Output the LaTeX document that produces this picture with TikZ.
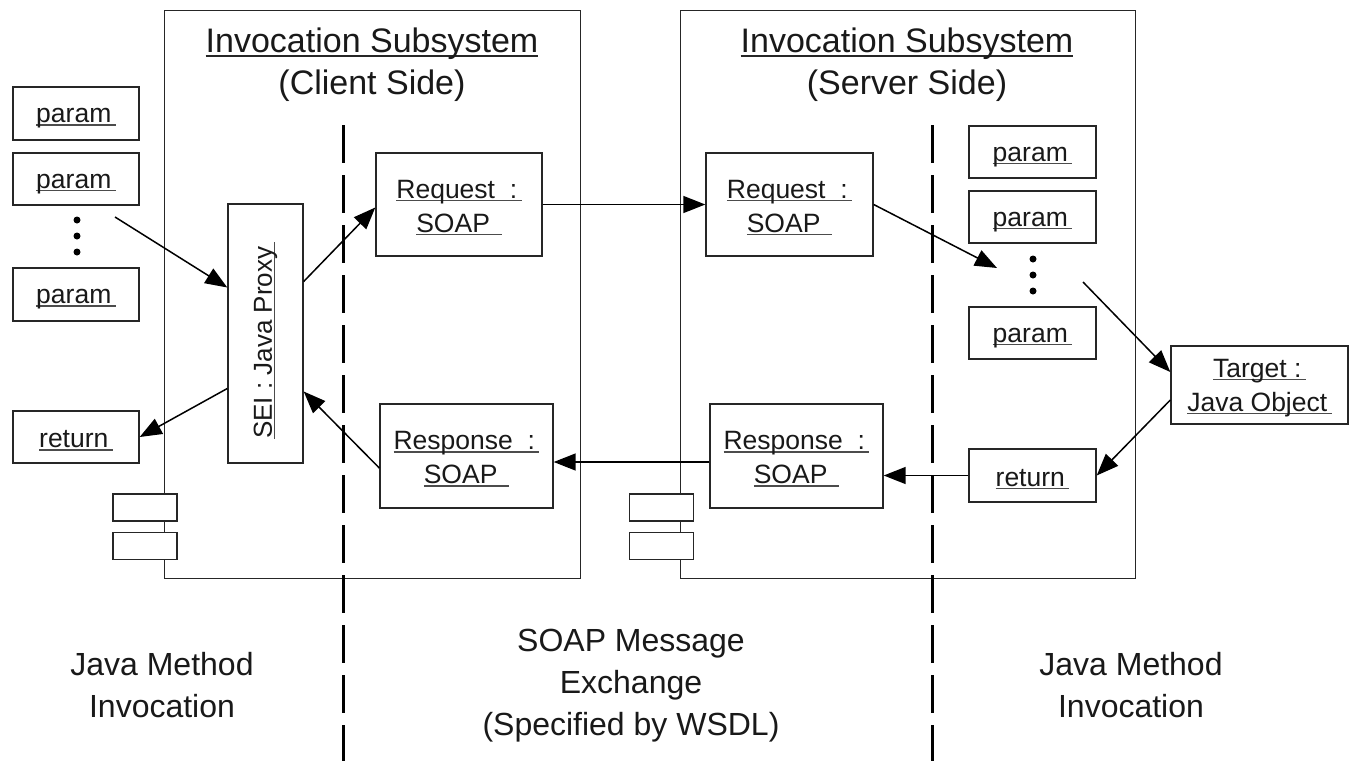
\documentclass[tikz,border=0pt]{standalone}
\usepackage{fontspec}
\setmainfont{Liberation Sans}
\usetikzlibrary{arrows.meta,calc}
\newcommand{\ulx}[1]{\leavevmode\setbox0\hbox{#1\,}\rule{0pt}{24pt}\rlap{\color{black!70}\rule[-3pt]{\wd0}{1.3pt}}\box0}
\newcommand{\ulr}[1]{\leavevmode\setbox0\hbox{#1\,}\rlap{\color{black!70}\rule[-3pt]{\wd0}{1.3pt}}\box0}
\newcommand{\ult}[1]{\leavevmode\setbox0\hbox{#1}\rlap{\color{black!85}\rule[-4pt]{\wd0}{1.8pt}}\box0}
\tikzset{
  box/.style={draw=black!85, line width=1.4pt, fill=white, inner sep=0pt,
    font=\fontsize{26.5}{34}\selectfont, align=center, text=black!90},
  frame/.style={draw=black!85, line width=1.4pt, inner sep=0pt},
  comp/.style={draw=black!85, line width=1.4pt, fill=white, inner sep=0pt,
    minimum width=64pt, minimum height=27pt},
  arr/.style={draw=black, line width=1.5pt, -{Triangle[length=22pt,width=17pt]}},
  sep/.style={draw=black, line width=3pt, dash pattern=on 38pt off 12pt},
  lbl/.style={font=\fontsize{32}{42}\selectfont, align=center, text=black!90},
  ttl/.style={font=\fontsize{34}{42}\selectfont, align=center, text=black!90},
  txt/.style={font=\fontsize{26}{34}\selectfont, text=black!90, inner sep=0pt},
}
\begin{document}
\begin{tikzpicture}[x=1pt,y=-1pt]
\useasboundingbox[fill=white] (0,0) rectangle (1350,761);

% subsystem frames
\node[frame, minimum width=416pt, minimum height=568pt, anchor=north west] (client) at (164,10) {};
\node[frame, minimum width=455pt, minimum height=568pt, anchor=north west] (server) at (680,10) {};

\node[ttl] (ctitle) at (372,65) {\ult{Invocation Subsystem}\\(Client Side)};
\node[ttl] (stitle) at (907,65) {\ult{Invocation Subsystem}\\(Server Side)};

% separators
\coordinate (d1t) at (343,125); \coordinate (d1b) at (343,761);
\coordinate (d2t) at (932,125); \coordinate (d2b) at (932,761);
\draw[sep] (d1t) -- (d1b);
\draw[sep] (d2t) -- (d2b);

% component symbols
\node[comp] (cc1) at (145,507.5) {};
\node[comp] (cc2) at (145,546) {};
\node[comp] (sc1) at (661.5,507.5) {};
\node[comp] (sc2) at (661.5,546) {};

% client-side java objects
\node[box, minimum width=126pt, minimum height=53pt] (lp1) at (76,113.5) {\ulx{param}};
\node[box, minimum width=126pt, minimum height=52pt] (lp2) at (76,179) {\ulx{param}};
\node[box, minimum width=126pt, minimum height=53pt] (lp3) at (76,294.5) {\ulx{param}};
\node[box, minimum width=126pt, minimum height=52pt] (lret) at (76,437) {\ulx{return}};
\foreach \yy in {220,236,252} \fill (77,\yy) circle (3.5pt);

\node[box, minimum width=75pt, minimum height=259pt] (sei) at (265.5,333.5) {};
\node[txt, rotate=90] (seitxt) at ([yshift=-7pt]sei.center) {\ulr{SEI : Java Proxy}};

\node[box, minimum width=166pt, minimum height=103pt] (reqc) at (459,204.5) {\ulx{Request\ \ :}\\\ulr{SOAP\ }};
\node[box, minimum width=173pt, minimum height=104pt] (respc) at (466.5,456) {\ulx{Response\ \ :}\\\ulr{SOAP\ }};
\node[box, minimum width=167pt, minimum height=103pt] (reqs) at (789.5,204.5) {\ulx{Request\ \ :}\\\ulr{SOAP\ }};
\node[box, minimum width=173pt, minimum height=104pt] (resps) at (796.5,456) {\ulx{Response\ \ :}\\\ulr{SOAP\ }};

% server-side java objects
\node[box, minimum width=127pt, minimum height=52pt] (rp1) at (1032.5,152) {\ulx{param}};
\node[box, minimum width=127pt, minimum height=52pt] (rp2) at (1032.5,217) {\ulx{param}};
\node[box, minimum width=127pt, minimum height=52pt] (rp3) at (1032.5,333) {\ulx{param}};
\node[box, minimum width=127pt, minimum height=53pt] (rret) at (1032.5,475.5) {\ulx{return}};
\foreach \yy in {259,275,291} \fill (1033,\yy) circle (3.5pt);
\node[box, minimum width=177pt, minimum height=78pt] (target) at (1259.5,385) {\ulx{Target :}\\\ulr{Java Object}};

% connectors
\coordinate (a1s) at (115,217);
\coordinate (a4e) at (997,268);
\coordinate (a5s) at (1083,282);
\draw[arr] (a1s) -- ([yshift=46pt]sei.west);
\draw[arr] ([yshift=52pt]sei.east) -- ([yshift=-3pt]reqc.west);
\draw[arr] (reqc.east) -- (reqs.west);
\draw[arr] (reqs.east) -- (a4e);
\draw[arr] (a5s) -- ([yshift=13pt]target.west);
\draw[arr] ([yshift=-15pt]target.west) -- (rret.east);
\draw[arr] (rret.west) -- (rret.west -| resps.east);
\draw[arr] ([yshift=-6pt]resps.west) coordinate (a8s) -- (a8s -| respc.east);
\draw[arr] ([yshift=-12pt]respc.west) -- ([yshift=-58pt]sei.east);
\draw[arr] ([yshift=-55pt]sei.west) -- (lret.east);

% bottom labels
\node[lbl] (ljm) at (162,685) {Java Method\\Invocation};
\node[lbl] (soap) at (631,686) {SOAP Message\\Exchange\\(Specified by WSDL)};
\node[lbl] (rjm) at (1131,685) {Java Method\\Invocation};
\end{tikzpicture}
\end{document}
